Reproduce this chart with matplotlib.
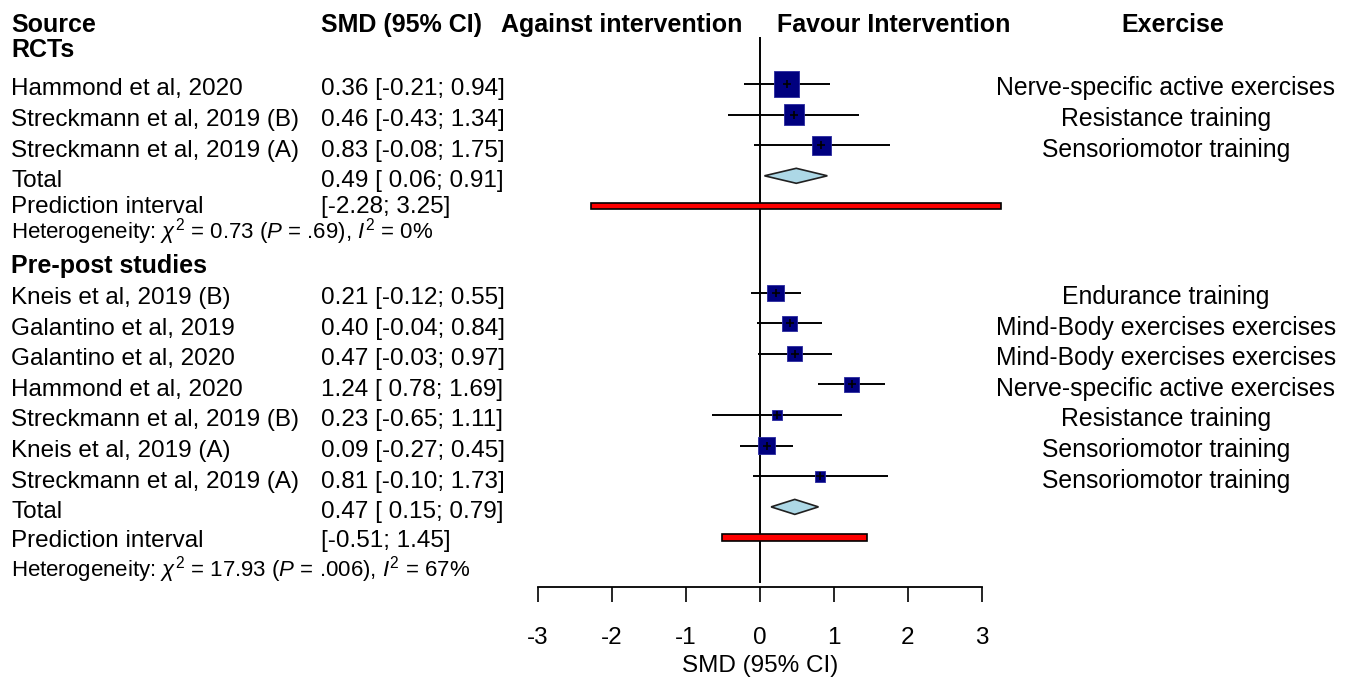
import numpy as np
import matplotlib
matplotlib.use('Agg')
import matplotlib.pyplot as plt
import matplotlib.transforms as mtransforms

plt.rcParams['font.family'] = ['Liberation Sans', 'DejaVu Sans']
plt.rcParams['mathtext.fontset'] = 'custom'
plt.rcParams['mathtext.rm'] = 'Liberation Sans'
plt.rcParams['mathtext.it'] = 'Liberation Sans:italic'
plt.rcParams['axes.unicode_minus'] = False

# RCTs
rct_studies = ['Hammond et al, 2020', 'Streckmann et al, 2019 (B)', 'Streckmann et al, 2019 (A)']
rct_smd = [0.36, 0.46, 0.83]
rct_lo = [-0.21, -0.43, -0.08]
rct_hi = [0.94, 1.34, 1.75]
rct_weight = [45.5, 29.1, 25.4]
rct_exercise = ['Nerve-specific active exercises', 'Resistance training', 'Sensoriomotor training']
rct_total = [0.49, 0.06, 0.91]
rct_pi = [-2.28, 3.25]
rct_het = r'Heterogeneity: $\chi^2$ = 0.73 ($P$ = .69), $I^2$ = 0%'

# Pre-post studies
pp_studies = ['Kneis et al, 2019 (B)', 'Galantino et al, 2019', 'Galantino et al, 2020',
              'Hammond et al, 2020', 'Streckmann et al, 2019 (B)', 'Kneis et al, 2019 (A)',
              'Streckmann et al, 2019 (A)']
pp_smd = [0.21, 0.40, 0.47, 1.24, 0.23, 0.09, 0.81]
pp_lo = [-0.12, -0.04, -0.03, 0.78, -0.65, -0.27, -0.10]
pp_hi = [0.55, 0.84, 0.97, 1.69, 1.11, 0.45, 1.73]
pp_weight = [18.0, 15.9, 15.9, 15.9, 7.8, 18.7, 7.8]
pp_exercise = ['Endurance training', 'Mind-Body exercises exercises', 'Mind-Body exercises exercises',
               'Nerve-specific active exercises', 'Resistance training', 'Sensoriomotor training',
               'Sensoriomotor training']
pp_total = [0.47, 0.15, 0.79]
pp_pi = [-0.51, 1.45]
pp_het = r'Heterogeneity: $\chi^2$ = 17.93 ($P$ = .006), $I^2$ = 67%'

xticks = [-3, -2, -1, 0, 1, 2, 3]

W, H = 1352, 677
fig = plt.figure(figsize=(W / 100, H / 100), dpi=100)


def row(px):
    # pixel height -> row units
    return (px - 84) / 30.6 + 2


ax = fig.add_axes([538 / W, 1 - 587 / H, 444 / W, (587 - 37) / H])
ax.set_xlim(-3, 3)
ax.set_ylim(row(587), row(37))

# rows
rct_y = np.arange(len(rct_studies)) + 2
rct_total_y = 5
rct_pi_y = 6
pp_y = np.arange(len(pp_studies)) + 8.82
pp_total_y = 15.82
pp_pi_y = 16.82

k = 3.8 * 0.72  # square side in points per sqrt(weight)
for ys, est, lo, hi, w in [(rct_y, rct_smd, rct_lo, rct_hi, rct_weight),
                            (pp_y, pp_smd, pp_lo, pp_hi, pp_weight)]:
    ax.hlines(ys, lo, hi, color='black', lw=1.4, zorder=2)
    ax.scatter(est, ys, marker='s', s=(k * np.sqrt(w)) ** 2, color='#00007f',
               edgecolor='#2a2aa0', lw=0.6, zorder=3)
    ax.scatter(est, ys, marker='+', s=40, color='black', lw=1.2, zorder=4)

h = 0.245
for y, (est, lo, hi) in [(rct_total_y, rct_total), (pp_total_y, pp_total)]:
    ax.fill([lo, est, hi, est], [y, y - h, y, y + h], facecolor='#add8e6',
            edgecolor='#202020', lw=1.2, zorder=3)

for y, (lo, hi) in [(rct_pi_y, rct_pi), (pp_pi_y, pp_pi)]:
    ax.barh(y, hi - lo, left=lo, height=0.2, color='red', edgecolor='black',
            lw=1.2, clip_on=False, zorder=3)

ax.axvline(0, ymin=(587 - 582) / 550, ymax=1, color='black', lw=1.4, zorder=1)

for s in ['left', 'right', 'top']:
    ax.spines[s].set_visible(False)
ax.spines['bottom'].set_linewidth(1.3)
ax.set_yticks([])
ax.set_xticks(xticks)
ax.set_xticklabels([str(t) for t in xticks])
ax.tick_params(axis='x', direction='out', length=10.8, width=1.2, pad=18, labelsize=17.5)
ax.set_xlabel('SMD (95% CI)', fontsize=17.5, labelpad=4)

# text columns
tr = mtransforms.blended_transform_factory(fig.transFigure, ax.transData)
fs = 17.5
fsb = 18
dy = 0.37
x_lab, x_smd, x_ex = 11 / W, 321 / W, 1166 / W


def ci_text(est, lo, hi):
    return f'{est:.2f} [{lo:5.2f}; {hi:.2f}]'


hy = 0.29
fig.text(x_lab, hy, 'Source', transform=tr, fontsize=fsb, fontweight='bold', va='baseline')
fig.text(x_smd, hy, 'SMD (95% CI)', transform=tr, fontsize=fsb, fontweight='bold', va='baseline')
fig.text(742 / W, hy, 'Against intervention', transform=tr, fontsize=fsb, fontweight='bold',
         va='baseline', ha='right')
fig.text(777 / W, hy, 'Favour Intervention', transform=tr, fontsize=fsb, fontweight='bold',
         va='baseline')
fig.text(1173 / W, hy, 'Exercise', transform=tr, fontsize=fsb, fontweight='bold',
         va='baseline', ha='center')

fig.text(x_lab, 1.13, 'RCTs', transform=tr, fontsize=fsb, fontweight='bold', va='baseline')
fig.text(x_lab, 8.19, 'Pre-post studies', transform=tr, fontsize=fsb, fontweight='bold', va='baseline')

for ys, names, est, lo, hi, ex in [(rct_y, rct_studies, rct_smd, rct_lo, rct_hi, rct_exercise),
                                   (pp_y, pp_studies, pp_smd, pp_lo, pp_hi, pp_exercise)]:
    for y, n, e, l, u, x in zip(ys, names, est, lo, hi, ex):
        fig.text(x_lab, y + dy, n, transform=tr, fontsize=fs, va='baseline')
        fig.text(x_smd, y + dy, ci_text(e, l, u), transform=tr, fontsize=fs, va='baseline')
        fig.text(x_ex, y + dy, x, transform=tr, fontsize=17.8, va='baseline', ha='center')

for y, tot, pi, pi_dy, het, het_y in [(rct_total_y, rct_total, rct_pi, 1.2, rct_het, 7.06),
                                      (pp_total_y, pp_total, pp_pi, 1.3, pp_het, 18.08)]:
    fig.text(x_lab, y + dy, 'Total', transform=tr, fontsize=fs, va='baseline')
    fig.text(x_smd, y + dy, ci_text(*tot), transform=tr, fontsize=fs, va='baseline')
    fig.text(x_lab, y + pi_dy, 'Prediction interval', transform=tr, fontsize=fs, va='baseline')
    fig.text(x_smd, y + pi_dy, f'[{pi[0]:.2f}; {pi[1]:.2f}]', transform=tr, fontsize=fs,
             va='baseline')
    fig.text(x_lab, het_y, het, transform=tr, fontsize=16, va='baseline')

fig.savefig('out.png', dpi=100, facecolor='white')
